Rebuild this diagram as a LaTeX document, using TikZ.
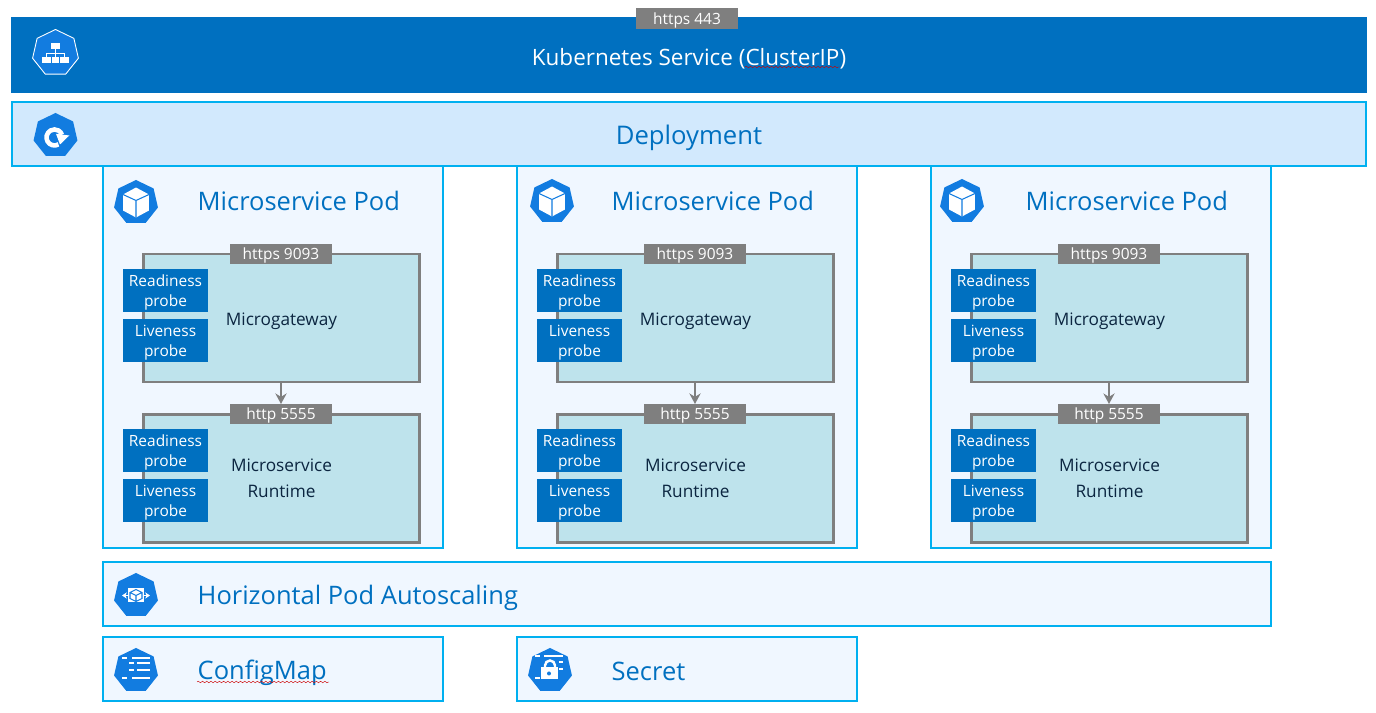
\documentclass[tikz,border=0pt]{standalone}
\usepackage{xcolor}
\usepackage{fontspec}
\setmainfont{Open Sans}
\usetikzlibrary{arrows.meta,shapes.geometric,decorations.pathmorphing}
\definecolor{KSBlue}{HTML}{0070C0}
\definecolor{KSCyan}{HTML}{00B0F0}
\definecolor{KSIcon}{HTML}{127CE0}
\definecolor{KSPale}{HTML}{D2E9FD}
\definecolor{KSPod}{HTML}{F0F7FF}
\definecolor{KSTeal}{HTML}{BEE3EC}
\definecolor{KSGray}{HTML}{7F7F7F}
\definecolor{KSNavy}{HTML}{0B2540}
\tikzset{
  panel/.style={draw=KSCyan,fill=KSPod,line width=0.57pt,inner sep=0pt,outer sep=0pt,minimum height=0.64cm},
  servicebar/.style={fill=KSBlue,text=white,inner sep=0pt,outer sep=0pt,minimum width=13.56cm,minimum height=0.76cm,text height=5.7pt,text depth=0pt,font=\fontsize{6.4}{8}\selectfont},
  title/.style={anchor=west,inner sep=0pt,text=KSBlue,font=\fontsize{7.25}{9}\selectfont},
  container/.style={draw=KSGray,fill=KSTeal,line width=0.75pt,inner sep=0pt,outer sep=0pt,minimum width=2.76cm,minimum height=1.28cm,text=KSNavy,align=center,font=\fontsize{4.9}{7.4}\selectfont},
  porttag/.style={fill=KSGray,text=white,inner sep=0pt,outer sep=0pt,minimum width=1.02cm,minimum height=0.20cm,text height=3.4pt,text depth=0pt,font=\fontsize{4.4}{5.7}\selectfont},
  probe/.style={fill=KSBlue,text=white,inner sep=0pt,outer sep=0pt,minimum width=0.85cm,minimum height=0.43cm,align=center,text height=9.2pt,text depth=0pt,font=\fontsize{4.4}{5.6}\selectfont},
  kubeicon/.style={regular polygon,regular polygon sides=7,draw=none,fill=KSIcon,inner sep=0pt,minimum size=0.45cm},
  flowline/.style={draw=KSGray,line width=0.8pt,-{Stealth[length=3pt,width=3.2pt]}},
  spellmark/.style={draw=red!80!black,line width=0.12pt,decorate,decoration={snake,amplitude=0.22pt,segment length=1.2pt}},
  px/.style={x=0.01cm,y=-0.01cm},
  glyph/.style={fill=white,draw=none}
}
\newcommand{\cubeglyph}[1]{%
\begin{scope}[shift={(#1)},px]
\fill[glyph] (0,-15) -- (13,-8) -- (13,8) -- (0,15) -- (-13,8) -- (-13,-8) -- cycle;
\draw[KSIcon,line width=0.3pt] (-13,-8) -- (0,-2) -- (13,-8) (0,-2) -- (0,15);
\end{scope}}
\begin{document}
\begin{tikzpicture}[x=1cm,y=1cm]
\path[use as bounding box] (0,0) rectangle (13.76,7.13);
\node[servicebar] (service) at (6.89,6.58) {Kubernetes Service (ClusterIP)};
\node[porttag,minimum height=0.21cm] (serviceport) at (6.87,6.945) {https 443};
\draw[spellmark] (7.45,6.46) -- (8.40,6.46);
% pods come first, the deployment bar lies over their top edge
\node[panel,minimum width=3.40cm,minimum height=3.82cm] (podA) at (2.73,3.56) {};
\node[panel,minimum width=3.40cm,minimum height=3.82cm] (podB) at (6.87,3.56) {};
\node[panel,minimum width=3.40cm,minimum height=3.82cm] (podC) at (11.01,3.56) {};
\node[panel,fill=KSPale,minimum width=13.54cm,text=KSBlue,text height=5.7pt,text depth=0pt,font=\fontsize{7.3}{9}\selectfont] (deployment) at (6.89,5.79) {Deployment};
\node[kubeicon,draw=white,line width=0.25pt,minimum size=0.47cm] (serviceicon) at (0.555,6.60) {};
\begin{scope}[shift={(serviceicon)},px]
\fill[glyph] (-5,-10) rectangle (5,-4);
\fill[glyph] (-14,4) rectangle (-5,10);
\fill[glyph] (-4,4) rectangle (4,10);
\fill[glyph] (5,4) rectangle (14,10);
\draw[white,line width=0.25pt] (0,-4) -- (0,4) (-9,4) -- (-9,0) -- (9,0) -- (9,4);
\end{scope}
\node[kubeicon] (deploymenticon) at (0.555,5.775) {};
\begin{scope}[shift={(deploymenticon)},px]
\draw[white,line width=1.3pt] (3,8.9) arc[start angle=60,end angle=340,radius=8];
\fill[glyph] (0.5,-1.7) -- (13.8,0) -- (4.5,9) -- cycle;
\end{scope}
% first pod
\node[kubeicon] (iconA) at (1.36,5.105) {};
\cubeglyph{iconA}
\node[title] (titleA) at (1.97,5.125) {Microservice Pod};
\node[container,text height=4pt,text depth=0pt] (gatewayA) at (2.815,3.95) {Microgateway};
\node[container,text height=11.1pt,text depth=0pt] (runtimeA) at (2.815,2.345) {Microservice\\Runtime};
\node[porttag] (gatewayportA) at (2.81,4.59) {https 9093};
\node[porttag] (runtimeportA) at (2.81,2.99) {http 5555};
\node[probe] (readyA) at (1.655,4.225) {Readiness\\probe};
\node[probe] (liveA) at (1.655,3.725) {Liveness\\probe};
\node[probe] (readyrunA) at (1.655,2.625) {Readiness\\probe};
\node[probe] (liverunA) at (1.655,2.125) {Liveness\\probe};
\draw[flowline] (gatewayA.south -| gatewayportA) -- (runtimeportA.north);
% second pod
\node[kubeicon] (iconB) at (5.52,5.115) {};
\cubeglyph{iconB}
\node[title] (titleB) at (6.11,5.125) {Microservice Pod};
\node[container,text height=4pt,text depth=0pt] (gatewayB) at (6.955,3.95) {Microgateway};
\node[container,text height=11.1pt,text depth=0pt] (runtimeB) at (6.955,2.345) {Microservice\\Runtime};
\node[porttag] (gatewayportB) at (6.95,4.59) {https 9093};
\node[porttag] (runtimeportB) at (6.95,2.99) {http 5555};
\node[probe] (readyB) at (5.795,4.225) {Readiness\\probe};
\node[probe] (liveB) at (5.795,3.725) {Liveness\\probe};
\node[probe] (readyrunB) at (5.795,2.625) {Readiness\\probe};
\node[probe] (liverunB) at (5.795,2.125) {Liveness\\probe};
\draw[flowline] (gatewayB.south -| gatewayportB) -- (runtimeportB.north);
% third pod
\node[kubeicon] (iconC) at (9.62,5.115) {};
\cubeglyph{iconC}
\node[title] (titleC) at (10.25,5.125) {Microservice Pod};
\node[container,text height=4pt,text depth=0pt] (gatewayC) at (11.095,3.95) {Microgateway};
\node[container,text height=11.1pt,text depth=0pt] (runtimeC) at (11.095,2.345) {Microservice\\Runtime};
\node[porttag] (gatewayportC) at (11.09,4.59) {https 9093};
\node[porttag] (runtimeportC) at (11.09,2.99) {http 5555};
\node[probe] (readyC) at (9.935,4.225) {Readiness\\probe};
\node[probe] (liveC) at (9.935,3.725) {Liveness\\probe};
\node[probe] (readyrunC) at (9.935,2.625) {Readiness\\probe};
\node[probe] (liverunC) at (9.935,2.125) {Liveness\\probe};
\draw[flowline] (gatewayC.south -| gatewayportC) -- (runtimeportC.north);
% bottom bars
\node[panel,minimum width=11.68cm] (autoscaling) at (6.87,1.19) {};
\node[kubeicon] (autoscalingicon) at (1.36,1.175) {};
\begin{scope}[shift={(autoscalingicon)},px]
\draw[white,line width=0.4pt,{Stealth[length=1.4pt,width=1.8pt]}-{Stealth[length=1.4pt,width=1.8pt]}] (-14,0) -- (14,0);
\fill[glyph] (-8,-7) rectangle (8,7);
\draw[KSIcon,line width=0.3pt] (0,-6) -- (6,-3) -- (6,3) -- (0,6) -- (-6,3) -- (-6,-3) -- cycle (-6,-3) -- (0,0) -- (6,-3) (0,0) -- (0,6);
\end{scope}
\node[title] (autoscalingtitle) at (1.97,1.155) {Horizontal Pod Autoscaling};
\node[panel,minimum width=3.40cm] (configmap) at (2.73,0.44) {};
\node[kubeicon] (configmapicon) at (1.36,0.425) {};
\begin{scope}[shift={(configmapicon)},px]
\fill[glyph] (-14,-14) rectangle (-9,-12);
\fill[glyph] (-4,-14) rectangle (14,-12);
\fill[glyph] (-7,-8) rectangle (-2,-6);
\fill[glyph] (1,-8) rectangle (14,-6);
\fill[glyph] (-7,-1) rectangle (-2,1);
\fill[glyph] (1,-1) rectangle (14,1);
\fill[glyph] (-14,7) rectangle (-9,9);
\fill[glyph] (-4,7) rectangle (14,9);
\end{scope}
\node[title] (configmaptitle) at (1.97,0.40) {ConfigMap};
\draw[spellmark] (1.97,0.31) -- (3.29,0.31);
\node[panel,minimum width=3.40cm] (secret) at (6.87,0.44) {};
\node[kubeicon] (secreticon) at (5.50,0.425) {};
\begin{scope}[shift={(secreticon)},px]
\fill[glyph] (-15,-16) rectangle (-10,-14);
\fill[glyph] (-6,-16) rectangle (13,-14);
\fill[glyph] (9,-9) rectangle (13,-7);
\fill[glyph] (9,-2) rectangle (13,0);
\fill[glyph] (-15,7) rectangle (-10,9);
\fill[glyph] (-9,-3) rectangle (8,9);
\draw[white,line width=0.7pt] (-5,-3) -- (-5,-5) arc[start angle=180,end angle=360,radius=5] -- (5,-3);
\fill[KSIcon] (-1,3) circle[radius=2];
\end{scope}
\node[title] (secrettitle) at (6.11,0.42) {Secret};
\end{tikzpicture}
\end{document}
